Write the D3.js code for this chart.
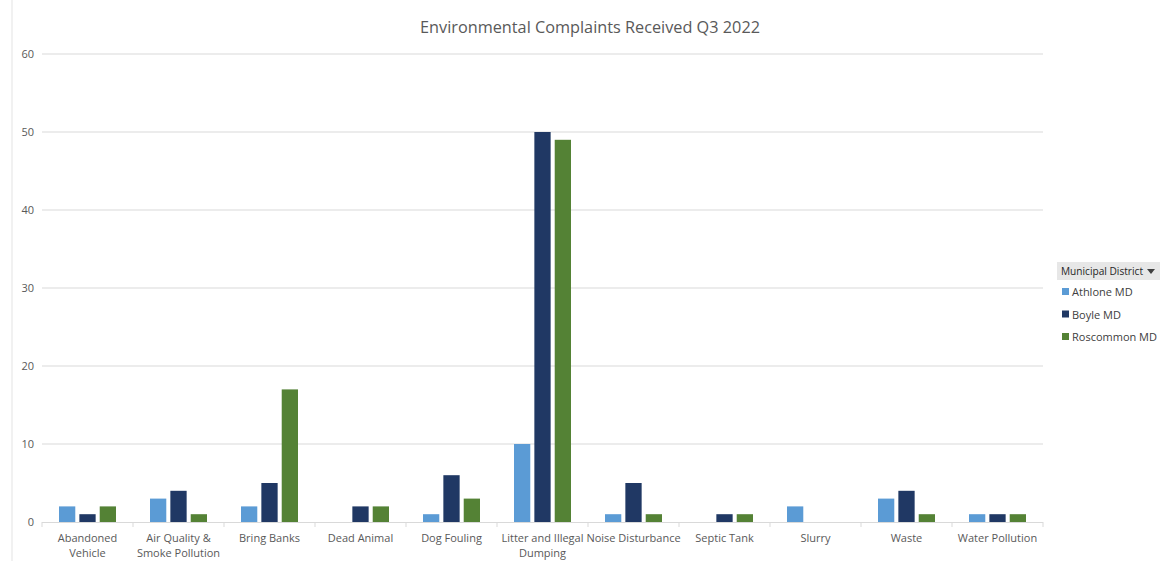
<!DOCTYPE html>
<html><head><meta charset="utf-8">
<script src="https://cdn.jsdelivr.net/npm/d3@7"></script>
<style>body{margin:0;background:#fff;font-family:"Open Sans","Noto Sans",sans-serif;}</style>
</head><body>
<svg id="c" width="1160" height="561"></svg>
<script>
const categories = ["Abandoned Vehicle","Air Quality & Smoke Pollution","Bring Banks","Dead Animal","Dog Fouling","Litter and Illegal Dumping","Noise Disturbance","Septic Tank","Slurry","Waste","Water Pollution"];
const categoryLines = [["Abandoned","Vehicle"],["Air Quality &","Smoke Pollution"],["Bring Banks"],["Dead Animal"],["Dog Fouling"],["Litter and Illegal","Dumping"],["Noise Disturbance"],["Septic Tank"],["Slurry"],["Waste"],["Water Pollution"]];
const seriesNames = ["Athlone MD","Boyle MD","Roscommon MD"];
const athlone = [2,3,2,0,1,10,1,0,2,3,1];
const boyle = [1,4,5,2,6,50,5,1,0,4,1];
const roscommon = [2,1,17,2,3,49,1,1,0,1,1];
const yTicks = [0,10,20,30,40,50,60];
const colors = ["#5b9bd5","#203864","#548235"];
const series = [athlone, boyle, roscommon];

(function(){
const svg = d3.select("#c");
const pLeft = 42, pRight = 1043, pTop = 54, pBottom = 522;
const x = d3.scaleBand().domain(categories).range([pLeft,pRight]).paddingInner(0).paddingOuter(0);
const y = d3.scaleLinear().domain([0,60]).range([pBottom,pTop]);
const groupW = 57;
const xs = d3.scaleBand().domain(seriesNames).range([0,groupW]).paddingInner(0.2);

svg.append("line").attr("x1",12).attr("x2",12).attr("y1",0).attr("y2",561).attr("stroke","#e3e3e3");

svg.append("text").attr("x",590).attr("y",33).attr("text-anchor","middle")
  .attr("font-size",16.5).attr("fill","#595959")
  .attr("textLength",340).attr("lengthAdjust","spacingAndGlyphs")
  .text("Environmental Complaints Received Q3 2022");

svg.append("g").selectAll("line").data(yTicks.filter(d=>d>0)).join("line")
  .attr("x1",pLeft).attr("x2",pRight).attr("y1",d=>y(d)).attr("y2",d=>y(d))
  .attr("stroke","#d9d9d9").attr("stroke-width",1);

svg.append("g").selectAll("text").data(yTicks).join("text")
  .attr("x",34).attr("y",d=>y(d)+4).attr("text-anchor","end")
  .attr("font-size",11).attr("fill","#595959").text(d=>d);

categories.forEach((c,i)=>{
  const gx = x(c) + (x.bandwidth()-groupW)/2;
  series.forEach((s,j)=>{
    if (s[i] > 0) {
      svg.append("rect").attr("x",gx+xs(seriesNames[j])).attr("width",xs.bandwidth())
        .attr("y",y(s[i])).attr("height",y(0)-y(s[i])).attr("fill",colors[j]);
    }
  });
});

svg.append("line").attr("x1",pLeft).attr("x2",pRight).attr("y1",pBottom+0.5).attr("y2",pBottom+0.5).attr("stroke","#d9d9d9");
const bounds = categories.map(c=>x(c)).concat([pRight]);
svg.append("g").selectAll("line").data(bounds).join("line")
  .attr("x1",d=>d).attr("x2",d=>d).attr("y1",pBottom).attr("y2",pBottom+5).attr("stroke","#d9d9d9");

categories.forEach((c,i)=>{
  const t = svg.append("text").attr("x",x(c)+x.bandwidth()/2).attr("y",542)
    .attr("text-anchor","middle").attr("font-size",11).attr("fill","#595959");
  categoryLines[i].forEach((l,k)=>{
    t.append("tspan").attr("x",x(c)+x.bandwidth()/2).attr("dy",k===0?0:15).text(l);
  });
});

const lg = svg.append("g");
lg.append("rect").attr("x",1057).attr("y",262).attr("width",103).attr("height",18).attr("fill","#e7e7e7");
lg.append("text").attr("x",1061).attr("y",275).attr("font-size",11).attr("fill","#262626")
  .attr("textLength",82).attr("lengthAdjust","spacingAndGlyphs").text("Municipal District");
lg.append("path").attr("d","M1147,269 L1155,269 L1151,274 Z").attr("fill","#404040");
seriesNames.forEach((n,j)=>{
  const yy = 292 + j*22.5;
  lg.append("rect").attr("x",1062).attr("y",yy-4).attr("width",7).attr("height",7).attr("fill",colors[j]);
  lg.append("text").attr("x",1072).attr("y",yy+4).attr("font-size",11).attr("fill","#404040").text(n);
});
})();
</script>
</body></html>
